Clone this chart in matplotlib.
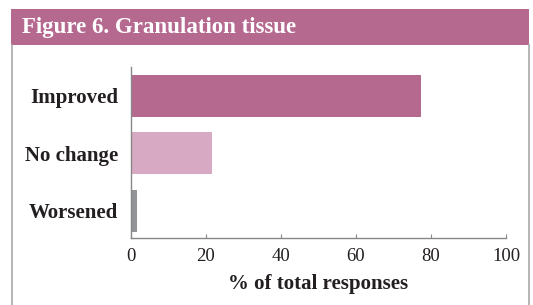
import matplotlib
matplotlib.use("Agg")
import matplotlib.pyplot as plt
from matplotlib.patches import Rectangle
from matplotlib.lines import Line2D

categories = ["Improved", "No change", "Worsened"]
values = [77.4, 21.7, 1.6]
bar_colors = ["#B5698F", "#D8A9C2", "#939498"]
xticks = [0, 20, 40, 60, 80, 100]
title = "Figure 6. Granulation tissue"
xlabel = "% of total responses"

serif = ["Liberation Serif", "DejaVu Serif"]
plt.rcParams["font.family"] = serif

W, H = 533, 305
fig = plt.figure(figsize=(W / 100, H / 100), dpi=100)
fig.patch.set_facecolor("white")

# header band
fig.patches.append(Rectangle((11 / W, (H - 45) / H), (529 - 11) / W, 36 / H,
                             transform=fig.transFigure, facecolor="#B5698F",
                             edgecolor="none", zorder=0))
fig.text(22 / W, (H - 27.5) / H, title, color="white", fontsize=16.5,
         fontweight="bold", va="center", ha="left")
# box borders
for x in (11.5, 528.5):
    fig.add_artist(Line2D([x / W, x / W], [0, (H - 45) / H], color="#A8A8A8",
                          lw=1.2, transform=fig.transFigure))

ax = fig.add_axes([130.7 / W, (H - 238.3) / H, 375.3 / W, 171.3 / H])
ypos = list(range(len(categories)))
ax.barh(ypos, values, height=0.73, color=bar_colors, zorder=2)
ax.set_ylim(2.48, -0.5)
ax.set_xlim(0, 100)
ax.set_yticks(ypos)
ax.set_yticklabels(categories, fontsize=15, fontweight="bold", color="#231F20")
ax.set_xticks(xticks)
ax.set_xticklabels([str(t) for t in xticks], fontsize=13.5, color="#231F20")
ax.tick_params(axis="y", length=0, pad=9)
ax.tick_params(axis="x", direction="in", length=3, color="#888888", pad=7)
for s in ("top", "right"):
    ax.spines[s].set_visible(False)
for s in ("left", "bottom"):
    ax.spines[s].set_color("#888888")
    ax.spines[s].set_linewidth(1.0)
ax.set_xlabel(xlabel, fontsize=15, fontweight="bold", color="#231F20", labelpad=6.5)

fig.savefig("out.png", dpi=100, facecolor="white")
